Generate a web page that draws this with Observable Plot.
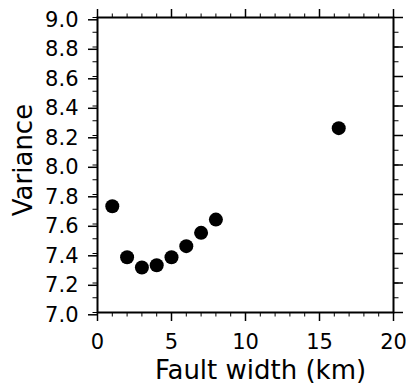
<!DOCTYPE html>
<html><head><meta charset="utf-8">
<script src="https://cdn.jsdelivr.net/npm/d3@7"></script>
<script src="https://cdn.jsdelivr.net/npm/@observablehq/plot@0.6"></script>
<style>body{margin:0;background:#fff} svg{display:block}</style>
</head><body><div id="chart"></div>
<script>
const faultWidth = [1, 2, 3, 4, 5, 6, 7, 8, 16.3];
const variance = [7.72, 7.375, 7.305, 7.32, 7.375, 7.45, 7.54, 7.63, 8.25];
const xMajorTicks = [0, 5, 10, 15, 20];
const xMinorTicks = [0,1,2,3,4,5,6,7,8,9,10,11,12,13,14,15,16,17,18,19,20];
const yMajorTicks = [7.0, 7.2, 7.4, 7.6, 7.8, 8.0, 8.2, 8.4, 8.6, 8.8, 9.0];
const yMinorTicks = [7.0,7.1,7.2,7.3,7.4,7.5,7.6,7.7,7.8,7.9,8.0,8.1,8.2,8.3,8.4,8.5,8.6,8.7,8.8,8.9,9.0];
const xTitle = "Fault width (km)";
const yTitle = "Variance";

const data = faultWidth.map((x, i) => ({x, y: variance[i]}));
const blank = () => "";
const font = "DejaVu Sans";

const chart = Plot.plot({
  width: 406,
  height: 385,
  marginLeft: 97,
  marginRight: 13,
  marginTop: 17,
  marginBottom: 73,
  style: {fontFamily: font, background: "#fff", color: "#000"},
  x: {domain: [0, 20]},
  y: {domain: [7, 9]},
  marks: [
    Plot.axisX(xMinorTicks, {anchor: "bottom", tickSize: 4.5, strokeWidth: 1, tickFormat: blank, label: null}),
    Plot.axisX(xMinorTicks, {anchor: "top", tickSize: 4.5, strokeWidth: 1, tickFormat: blank, label: null}),
    Plot.axisX(xMajorTicks, {anchor: "bottom", tickSize: 9, strokeWidth: 1.5, tickPadding: 13, fontSize: 21, tickFormat: d => String(d), label: null}),
    Plot.axisX(xMajorTicks, {anchor: "top", tickSize: 9, strokeWidth: 1.5, tickFormat: blank, label: null}),
    Plot.axisY(yMinorTicks, {anchor: "left", tickSize: 4.5, strokeWidth: 1, tickFormat: blank, label: null}),
    Plot.axisY(yMinorTicks, {anchor: "right", tickSize: 4.5, strokeWidth: 1, tickFormat: blank, label: null}),
    Plot.axisY(yMajorTicks, {anchor: "left", tickSize: 9, strokeWidth: 1.5, tickPadding: 10, fontSize: 21, dy: 2.3, tickFormat: d3.format(".1f"), label: null}),
    Plot.axisY(yMajorTicks, {anchor: "right", tickSize: 9, strokeWidth: 1.5, tickFormat: blank, label: null}),
    Plot.frame({stroke: "#000", strokeWidth: 2}),
    Plot.dot(data, {x: "x", y: "y", r: 7, fill: "#000", stroke: "none"}),
    Plot.text([xTitle], {frameAnchor: "bottom", lineAnchor: "bottom", dy: 66, dx: 15, fontSize: 26, fill: "#000"}),
    Plot.text([yTitle], {frameAnchor: "left", textAnchor: "middle", lineAnchor: "bottom", rotate: -90, dx: -66, dy: -5, fontSize: 26, fill: "#000"})
  ]
});
document.getElementById("chart").appendChild(chart);
</script>
</body></html>
